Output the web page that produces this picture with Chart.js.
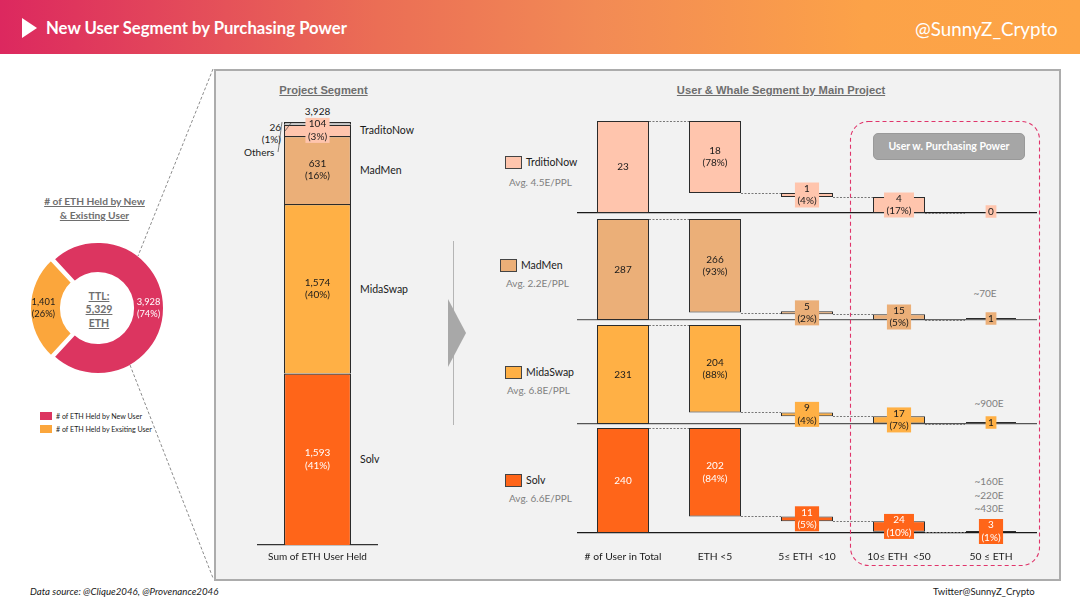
<!DOCTYPE html>
<html>
<head>
<meta charset="utf-8">
<script src="https://cdn.jsdelivr.net/npm/chart.js@4"></script>
<style>
  html, body { margin: 0; padding: 0; background: #fff; }
  body { width: 1080px; height: 608px; position: relative; overflow: hidden; font-family: Lato, sans-serif; color: #1a1a1a; }
  #header { position: absolute; left: 0; top: 0; width: 1080px; height: 54px; background: linear-gradient(90deg, #dc285f 0%, #eb6e55 35%, #f28a55 55%, #fca248 80%, #fda546 100%); }
  #panel { position: absolute; left: 214px; top: 69px; width: 843px; height: 508px; background: #f2f2f2; border: 2px solid #acacac; }
  canvas { position: absolute; }
  svg { position: absolute; left: 0; top: 0; }
  .t { position: absolute; white-space: pre; font-size: 10.5px; line-height: 13px; }
  .c { transform: translateX(-50%); text-align: center; }
  .grey { color: #7f7f7f; }
  .head { font-family: "Liberation Sans", sans-serif; font-weight: bold; color: #6e6e6e; font-size: 11.2px; text-decoration: underline; }
  .swatch { position: absolute; width: 15px; height: 11px; border: 1.2px solid #444; }
</style>
</head>
<body>
<div id="header"></div>
<div class="t" style="left:46px;top:17px;font-size:16.7px;line-height:22px;font-weight:700;color:#fff">New User Segment by Purchasing Power</div>
<div class="t" style="left:915px;top:17px;font-size:18.8px;line-height:24px;color:#fff">@SunnyZ_Crypto</div>
<div id="panel"></div>

<div class="t c" style="left:94.5px;top:195px;font-size:10.2px;line-height:13.5px;font-weight:700;color:#6e6e6e;text-decoration:underline">&#35; of ETH Held by New
&amp; Existing User</div>
<div class="t c" style="left:99px;top:289.5px;font-weight:700;color:#6e6e6e;line-height:13.5px;text-decoration:underline">TTL:
5,329
ETH</div>

<div class="t c head" style="left:323.5px;top:84px">Project Segment</div>
<div class="t c head" style="left:781px;top:84px">User &amp; Whale Segment by Main Project</div>

<div class="t c" style="left:317.5px;top:105px;font-size:10px">3,928</div>
<div class="t" style="right:799px;top:121px;font-size:10px">26</div>
<div class="t" style="right:799px;top:133px;font-size:10px">(1%)</div>
<div class="t" style="left:244px;top:146px;font-size:10px">Others</div>
<div class="t" style="left:360px;top:124px">TraditoNow</div>
<div class="t" style="left:360px;top:164px">MadMen</div>
<div class="t" style="left:360px;top:283px">MidaSwap</div>
<div class="t" style="left:360px;top:453px">Solv</div>

<div class="swatch" style="left:505px;top:156px;background:#ffc5ad"></div>
<div class="t" style="left:526px;top:156px">TrditioNow</div>
<div class="t grey" style="left:509px;top:176px;font-size:10px">Avg. 4.5E/PPL</div>
<div class="swatch" style="left:500px;top:259px;background:#ebaf78"></div>
<div class="t" style="left:521px;top:259px">MadMen</div>
<div class="t grey" style="left:506px;top:277px;font-size:10px">Avg. 2.2E/PPL</div>
<div class="swatch" style="left:505px;top:366px;background:#ffb045"></div>
<div class="t" style="left:526px;top:366px">MidaSwap</div>
<div class="t grey" style="left:507px;top:384px;font-size:10px">Avg. 6.8E/PPL</div>
<div class="swatch" style="left:505px;top:474px;background:#ff6519"></div>
<div class="t" style="left:526px;top:474px">Solv</div>
<div class="t grey" style="left:509px;top:492px;font-size:10px">Avg. 6.6E/PPL</div>

<div class="t grey c" style="left:985px;top:287px;font-size:10px">~70E</div>
<div class="t grey c" style="left:989px;top:397px;font-size:10px">~900E</div>
<div class="t grey c" style="left:989px;top:475px;line-height:13.5px;font-size:10px">~160E
~220E
~430E</div>

<div style="position:absolute;left:40px;top:412px;width:12px;height:8px;background:#dc3560"></div>
<div class="t" style="left:56px;top:411.5px;font-size:7.1px;line-height:10px">&#35; of ETH Held by New User</div>
<div style="position:absolute;left:40px;top:425px;width:12px;height:8px;background:#fba63c"></div>
<div class="t" style="left:56px;top:425px;font-size:7.1px;line-height:10px"># of ETH Held by Exsiting User</div>

<div class="t" style="left:30px;top:585px;font-size:9.7px;font-style:italic">Data source: @Clique2046, @Provenance2046</div>
<div class="t" style="left:933px;top:585px;font-size:9.5px">Twitter@SunnyZ_Crypto</div>

<canvas id="donut" width="144" height="144" style="left:26px;top:236px"></canvas>
<canvas id="stack" width="121" height="464" style="left:257px;top:108px"></canvas>
<canvas id="row0" width="460" height="138" style="left:577px;top:107px"></canvas>
<canvas id="row1" width="460" height="147" style="left:577px;top:205px"></canvas>
<canvas id="row2" width="460" height="145" style="left:577px;top:311px"></canvas>
<canvas id="row3" width="460" height="151" style="left:577px;top:414px"></canvas>

<svg width="1080" height="608">
  <polygon points="22,18 37,28 22,38" fill="#fff"/>
  <line x1="213" y1="69" x2="138" y2="256" stroke="#8c8c8c" stroke-width="1" stroke-dasharray="3 2"/>
  <line x1="130" y1="365" x2="213" y2="578" stroke="#8c8c8c" stroke-width="1" stroke-dasharray="3 2"/>
  <line x1="453.5" y1="241" x2="453.5" y2="425" stroke="#b5b5b5" stroke-width="1"/>
  <polygon points="448,299 466,333 448,367" fill="#a8a8a8"/>
  <line x1="291" y1="123" x2="285" y2="131" stroke="#444" stroke-width="0.7"/>
  <path d="M282,122 C280,135 280,140 278,152" fill="none" stroke="#444" stroke-width="0.7"/>
  <rect x="850.5" y="121.5" width="189" height="444" rx="18" fill="none" stroke="#e0356b" stroke-width="1.1" stroke-dasharray="4 3"/>
</svg>
<div style="position:absolute;left:873px;top:133px;width:150px;height:25px;background:#a6a6a6;border:1px solid #999;border-radius:5px;color:#fff;font-weight:700;font-size:10.5px;line-height:25px;text-align:center">User w. Purchasing Power</div>

<script>
const donutNames = ['# of ETH Held by New User', '# of ETH Held by Exsiting User'];
const donutValues = [3928, 1401];
const donutShares = ['74%', '26%'];

const stackCategory = ['Sum of ETH User Held'];
const stackNames = ['Solv', 'MidaSwap', 'MadMen', 'TraditoNow', 'Others'];
const stackValues = [1593, 1574, 631, 104, 26];
const stackShares = ['41%', '40%', '16%', '3%', '1%'];
const stackColors = ['#ff6519', '#ffb045', '#ebaf78', '#ffc5ad', '#bfbfbf'];

const userBuckets = ['# of User in Total', 'ETH <5', '5\u2264 ETH  <10', '10\u2264 ETH  <50', '50 \u2264 ETH'];
const traditoUsers = [23, 18, 1, 4, 0];
const traditoShares = ['', '78%', '4%', '17%', ''];
const madmenUsers = [287, 266, 5, 15, 1];
const madmenShares = ['', '93%', '2%', '5%', ''];
const midaUsers = [231, 204, 9, 17, 1];
const midaShares = ['', '88%', '4%', '7%', ''];
const solvUsers = [240, 202, 11, 24, 3];
const solvShares = ['', '84%', '5%', '10%', '1%'];

const BAR_EDGE = '#2b2b2b';

// text in the middle of each mark, boxed in the mark's colour where the mark is too thin to hold it
const markLabels = {
  id: 'markLabels',
  afterDatasetsDraw(chart) {
    const ctx = chart.ctx;
    chart.data.datasets.forEach((ds, d) => {
      if (!ds.labelText) return;
      chart.getDatasetMeta(d).data.forEach((el, i) => {
        const lines = ds.labelText[i];
        if (!lines || !lines.length) return;
        const p = el.tooltipPosition ? el.tooltipPosition() : { x: el.x, y: el.y };
        const cy = chart.config.type === 'bar' ? (el.y + el.base) / 2 : p.y;
        const lh = ds.labelLine || 12.5;
        ctx.save();
        ctx.font = (ds.labelSize || 10) + 'px Lato';
        ctx.textAlign = 'center';
        ctx.textBaseline = 'middle';
        if (ds.labelBox && ds.labelBox[i]) {
          const w = Math.max(...lines.map(s => ctx.measureText(s).width)) + 5;
          const h = lines.length * lh;
          ctx.fillStyle = ds.labelBox[i];
          ctx.fillRect(p.x - w / 2, cy - h / 2, w, h);
        }
        ctx.fillStyle = ds.labelColor[i];
        lines.forEach((s, k) => ctx.fillText(s, p.x, cy + (k - (lines.length - 1) / 2) * lh));
        ctx.restore();
      });
    });
  }
};

// dashed steps between neighbouring waterfall bars
const stepLines = {
  id: 'stepLines',
  beforeDatasetsDraw(chart) {
    const ds = chart.data.datasets[0];
    if (!ds.stepped) return;
    const bars = chart.getDatasetMeta(0).data;
    const y = chart.scales.y;
    const ctx = chart.ctx;
    ctx.save();
    ctx.strokeStyle = '#777';
    ctx.lineWidth = 1;
    ctx.setLineDash([2, 1.5]);
    for (let i = 0; i < bars.length - 1; i++) {
      const level = Math.round(y.getPixelForValue(ds.data[i + 1][1])) + 0.5;
      ctx.beginPath();
      ctx.moveTo(bars[i].x + bars[i].width / 2, level);
      ctx.lineTo(bars[i + 1].x - bars[i + 1].width / 2, level);
      ctx.stroke();
    }
    ctx.restore();
  }
};

function fixAxisHeight(height) {
  return scale => {
    scale.height = height;
    scale.paddingLeft = 0;
    scale.paddingRight = 0;
  };
}

new Chart(document.getElementById('donut'), {
  type: 'doughnut',
  plugins: [markLabels],
  data: {
    labels: donutNames,
    datasets: [{
      data: donutValues,
      backgroundColor: ['#dc3560', '#fba63c'],
      borderColor: '#fff',
      borderWidth: 3,
      offset: [0, 8],
      labelSize: 9.3,
      labelLine: 11.5,
      labelText: donutValues.map((v, i) => [v.toLocaleString('en-US'), '(' + donutShares[i] + ')']),
      labelColor: ['#fff', '#1a1a1a']
    }]
  },
  options: {
    responsive: false,
    animation: false,
    rotation: 317.3,
    cutout: '52%',
    plugins: { legend: { display: false }, tooltip: { enabled: false } }
  }
});

new Chart(document.getElementById('stack'), {
  type: 'bar',
  plugins: [markLabels],
  data: {
    labels: stackCategory,
    datasets: stackNames.map((name, i) => ({
      label: name,
      data: [stackValues[i]],
      backgroundColor: stackColors[i],
      borderColor: BAR_EDGE,
      borderWidth: 1.2,
      borderSkipped: 'start',
      labelText: name === 'Others' ? [[]] : [[stackValues[i].toLocaleString('en-US'), '(' + stackShares[i] + ')']],
      labelColor: [name === 'Solv' ? '#fff' : '#1a1a1a'],
      labelBox: [name === 'TraditoNow' ? stackColors[i] : null]
    }))
  },
  options: {
    responsive: false,
    animation: false,
    barPercentage: 0.554,
    categoryPercentage: 1,
    layout: { padding: { top: 14 } },
    plugins: { legend: { display: false }, tooltip: { enabled: false } },
    scales: {
      x: {
        stacked: true,
        afterFit: fixAxisHeight(27),
        grid: { display: false, drawTicks: false },
        border: { color: '#333', width: 1.2 },
        ticks: { color: '#1a1a1a', font: { family: 'Lato', size: 10 }, padding: 5.5 }
      },
      y: { stacked: true, display: false, min: 0, max: 3928 }
    }
  }
});

function waterfall(counts) {
  let left = counts[0];
  return counts.map((c, i) => {
    if (i === 0) return [0, c];
    left -= c;
    return [left, left + c];
  });
}

function userRow(id, counts, shares, color, textColor, axisColor, showTicks) {
  new Chart(document.getElementById(id), {
    type: 'bar',
    plugins: [stepLines, markLabels],
    data: {
      labels: userBuckets,
      datasets: [{
        data: waterfall(counts),
        stepped: true,
        // the last column is only ever a hairline on the axis
        backgroundColor: ctx => {
          if (counts[ctx.dataIndex] === 0) return 'transparent';
          return ctx.dataIndex === 4 ? BAR_EDGE : color;
        },
        borderColor: ctx => (ctx.dataIndex === 4 ? 'transparent' : BAR_EDGE),
        borderWidth: 1,
        borderSkipped: false,
        minBarLength: 3,
        clip: false,
        labelText: counts.map((c, i) => shares[i] ? [String(c), '(' + shares[i] + ')'] : [String(c)]),
        labelColor: counts.map(() => textColor),
        labelBox: counts.map((c, i) => i >= 2 ? color : null)
      }]
    },
    options: {
      responsive: false,
      animation: false,
      barPercentage: 0.565,
      categoryPercentage: 1,
      layout: { padding: { top: 14 } },
      plugins: { legend: { display: false }, tooltip: { enabled: false } },
      scales: {
        x: {
          afterFit: fixAxisHeight(32),
          grid: { display: false, drawTicks: false },
          border: { color: axisColor, width: 1.3 },
          ticks: {
            display: showTicks,
            color: '#1a1a1a',
            font: { family: 'Lato', size: 10.3 },
            padding: 17.5,
            autoSkip: false,
            maxRotation: 0
          }
        },
        y: { display: false, min: 0, max: counts[0] }
      }
    }
  });
}

userRow('row0', traditoUsers, traditoShares, '#ffc5ad', '#1a1a1a', '#1a1a1a', false);
userRow('row1', madmenUsers, madmenShares, '#ebaf78', '#1a1a1a', '#666', false);
userRow('row2', midaUsers, midaShares, '#ffb045', '#1a1a1a', '#555', false);
userRow('row3', solvUsers, solvShares, '#ff6519', '#fff', '#1a1a1a', true);
</script>
</body>
</html>
